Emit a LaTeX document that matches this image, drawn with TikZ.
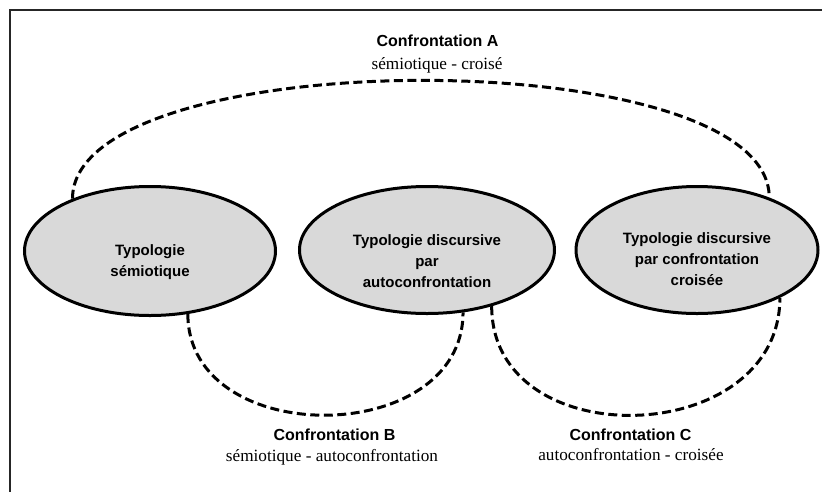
\documentclass[tikz,border=0pt]{standalone}
\usepackage{fontspec}
\setmainfont{Liberation Serif}
\setsansfont{Liberation Sans}
\usetikzlibrary{shapes.geometric}
\definecolor{ellgrau}{RGB}{217,217,217}

\begin{document}
\begin{tikzpicture}[x=1pt,y=-1pt,
		typo/.style={ellipse,draw=black,line width=3pt,fill=ellgrau,inner sep=0pt},
		typotext/.style={align=center,font=\sffamily\bfseries\fontsize{15}{21}\selectfont},
		titel/.style={font=\sffamily\bfseries\fontsize{16}{19}\selectfont},
		untertitel/.style={font=\fontsize{17.2}{20}\selectfont},
		konfro/.style={line width=3pt,dash pattern=on 9pt off 4.5pt}]
			\clip (0,0) rectangle (822,491);
			
			% Rahmen zeichnen
			\draw[line width=2.5pt,black!85] (10,520) -- (10,10) -- (850,10);
			
			% Ellipsen zeichnen
			\node[typo,minimum width=251pt,minimum height=129pt] (sem) at (150,251) {};
			\node[typo,minimum width=255pt,minimum height=127pt] (auto) at (427,250) {};
			\node[typo,minimum width=242pt,minimum height=127pt] (croi) at (697,250) {};
			
			% Beschriftungen der Ellipsen
			\node[typotext] (sem-text) at (150,262) {Typologie\\sémiotique};
			\node[typotext] (auto-text) at (427,261) {Typologie discursive\\par\\autoconfrontation};
			\node[typotext] (croi-text) at (697,259) {Typologie discursive\\par confrontation\\croisée};
			
			% Konfrontationen zeichnen
			\begin{scope}[konfro]
				\draw (sem.146) .. controls +(0,-157) and +(0,-157) .. (croi.36);
				\draw (sem.301) .. controls +(0,136) and +(0,136) .. (auto.300);
				\draw (auto.319) .. controls +(0,151) and +(0,151) .. (croi.330);
			\end{scope}
			
			% Titel eintragen
			\node[titel] (titel-A) at (437.5,41) {Confrontation A};
			\node[untertitel] (unter-A) at (437,65) {sémiotique - croisé};
			\node[titel] (titel-B) at (334.5,435) {Confrontation B};
			\node[untertitel] (unter-B) at (332,457) {sémiotique - autoconfrontation};
			\node[titel] (titel-C) at (630.5,435) {Confrontation C};
			\node[untertitel] (unter-C) at (631,455) {autoconfrontation - croisée};
	\end{tikzpicture}
\end{document}
